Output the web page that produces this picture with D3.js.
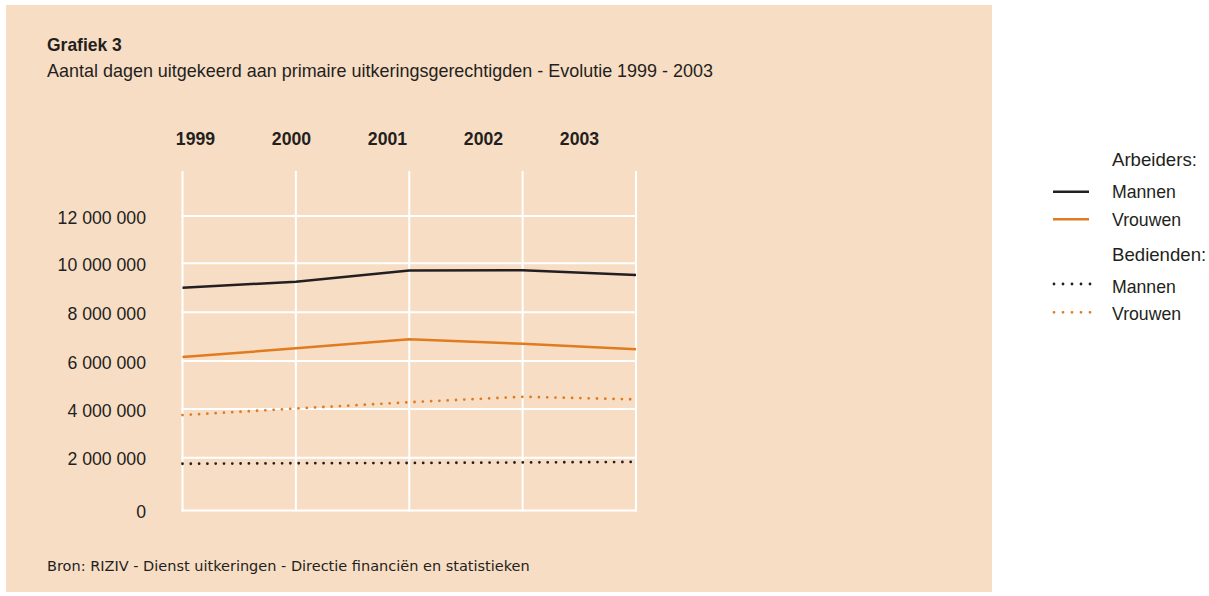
<!DOCTYPE html>
<html>
<head>
<meta charset="utf-8">
<script src="https://cdn.jsdelivr.net/npm/d3@7"></script>
<style>
  body { margin: 0; background: #fff; }
  text { fill: #231f20; }
</style>
</head>
<body>
<div id="chart"></div>
<script>
const years = ['1999', '2000', '2001', '2002', '2003'];
const yTicks = [0, 2000000, 4000000, 6000000, 8000000, 10000000, 12000000];
const arbeidersMannen = [9000000, 9250000, 9710000, 9720000, 9520000];
const arbeidersVrouwen = [6160000, 6520000, 6890000, 6710000, 6480000];
const bediendenMannen = [1770000, 1790000, 1800000, 1820000, 1840000];
const bediendenVrouwen = [3750000, 4020000, 4280000, 4510000, 4400000];

const series = [
  { name: 'Mannen', values: arbeidersMannen, color: '#231f20', dotted: false },
  { name: 'Vrouwen', values: arbeidersVrouwen, color: '#e07b1f', dotted: false },
  { name: 'Mannen', values: bediendenMannen, color: '#231f20', dotted: true },
  { name: 'Vrouwen', values: bediendenVrouwen, color: '#e07b1f', dotted: true }
];

const width = 1209;
const height = 596;
const narrow = '"Liberation Sans", Arial, sans-serif';

const svg = d3.select('#chart')
  .append('svg')
  .attr('width', width)
  .attr('height', height);

// squeeze a text horizontally, the original uses a condensed face
function condense(sel, f) {
  sel.each(function () {
    const w = this.getComputedTextLength();
    d3.select(this).attr('textLength', w * f).attr('lengthAdjust', 'spacingAndGlyphs');
  });
}

// panel background
svg.append('rect')
  .attr('x', 6).attr('y', 5)
  .attr('width', 986).attr('height', 587)
  .attr('fill', '#f8ddc5');

const x = d3.scalePoint()
  .domain(years)
  .range([182.5, 636]);

// grid of the scan is a bit uneven, follow it
const y = d3.scaleLinear()
  .domain(yTicks)
  .range([510.5, 457.7, 409, 361, 312.3, 263.3, 216]);

// year labels sit on their own spacing above the plot
const xLab = d3.scalePoint()
  .domain(years)
  .range([195.5, 579.5]);

const grid = svg.append('g').attr('stroke', '#fff').attr('stroke-width', 2);

grid.selectAll('line.v')
  .data(years)
  .join('line')
  .attr('class', 'v')
  .attr('x1', d => x(d)).attr('x2', d => x(d))
  .attr('y1', 171).attr('y2', y(0) + 1);

grid.selectAll('line.h')
  .data(yTicks)
  .join('line')
  .attr('class', 'h')
  .attr('x1', x(years[0]) - 1).attr('x2', x(years[4]) + 1)
  .attr('y1', d => y(d)).attr('y2', d => y(d));

svg.append('g')
  .attr('transform', 'translate(146,0)')
  .call(d3.axisLeft(y).tickValues(yTicks).tickSize(0).tickPadding(0)
    .tickFormat(d => d3.format(',')(d).replace(/,/g, ' ')))
  .call(g => g.select('.domain').remove())
  .call(g => g.selectAll('text')
    .attr('font-family', narrow)
    .attr('font-size', '19px')
    .attr('dy', '0.37em')
    .attr('fill', '#231f20')
    .call(condense, 0.93));

svg.append('g')
  .selectAll('text')
  .data(years)
  .join('text')
  .attr('x', d => xLab(d))
  .attr('y', 145)
  .attr('text-anchor', 'middle')
  .attr('font-family', narrow)
  .attr('font-weight', 'bold')
  .attr('font-size', '19px')
  .text(d => d)
  .call(condense, 0.93);

const line = d3.line()
  .x((d, i) => x(years[i]))
  .y(d => y(d));

svg.append('g')
  .selectAll('path')
  .data(series)
  .join('path')
  .attr('fill', 'none')
  .attr('stroke', d => d.color)
  .attr('stroke-width', d => d.dotted ? 2.8 : 2.5)
  .attr('stroke-linecap', d => d.dotted ? 'round' : 'butt')
  .attr('stroke-dasharray', d => d.dotted ? '0,8.3' : null)
  .attr('d', d => line(d.values));

// titles
svg.append('text')
  .attr('x', 47).attr('y', 51)
  .attr('font-family', narrow)
  .attr('font-weight', 'bold')
  .attr('font-size', '19px')
  .text('Grafiek 3')
  .call(condense, 0.92);

svg.append('text')
  .attr('x', 47).attr('y', 77)
  .attr('font-family', narrow)
  .attr('font-size', '19px')
  .text('Aantal dagen uitgekeerd aan primaire uitkeringsgerechtigden - Evolutie 1999 - 2003')
  .attr('textLength', 666)
  .attr('lengthAdjust', 'spacingAndGlyphs');

svg.append('text')
  .attr('x', 47).attr('y', 571)
  .attr('font-family', '"DejaVu Sans", sans-serif')
  .attr('font-size', '14.5px')
  .text('Bron: RIZIV - Dienst uitkeringen - Directie financiën en statistieken');

// legend
const legend = svg.append('g').attr('font-family', narrow).attr('font-size', '19px');
legend.append('text').attr('x', 1112).attr('y', 166).text('Arbeiders:').call(condense, 0.98);
legend.append('text').attr('x', 1112).attr('y', 261).text('Bedienden:').call(condense, 0.98);

const legendY = [191.7, 219.3, 284, 312.3];
const legendText = [198.3, 226, 292.7, 320];

legend.selectAll('line.item')
  .data(series)
  .join('line')
  .attr('class', 'item')
  .attr('x1', d => d.dotted ? 1054 : 1053)
  .attr('x2', d => d.dotted ? 1091 : 1089)
  .attr('y1', (d, i) => legendY[i])
  .attr('y2', (d, i) => legendY[i])
  .attr('stroke', d => d.color)
  .attr('stroke-width', d => d.dotted ? 2.8 : 2.5)
  .attr('stroke-linecap', d => d.dotted ? 'round' : 'butt')
  .attr('stroke-dasharray', d => d.dotted ? '0,9' : null);

legend.selectAll('text.item')
  .data(series)
  .join('text')
  .attr('class', 'item')
  .attr('x', 1112)
  .attr('y', (d, i) => legendText[i])
  .text(d => d.name)
  .call(condense, 0.93);
</script>
</body>
</html>
